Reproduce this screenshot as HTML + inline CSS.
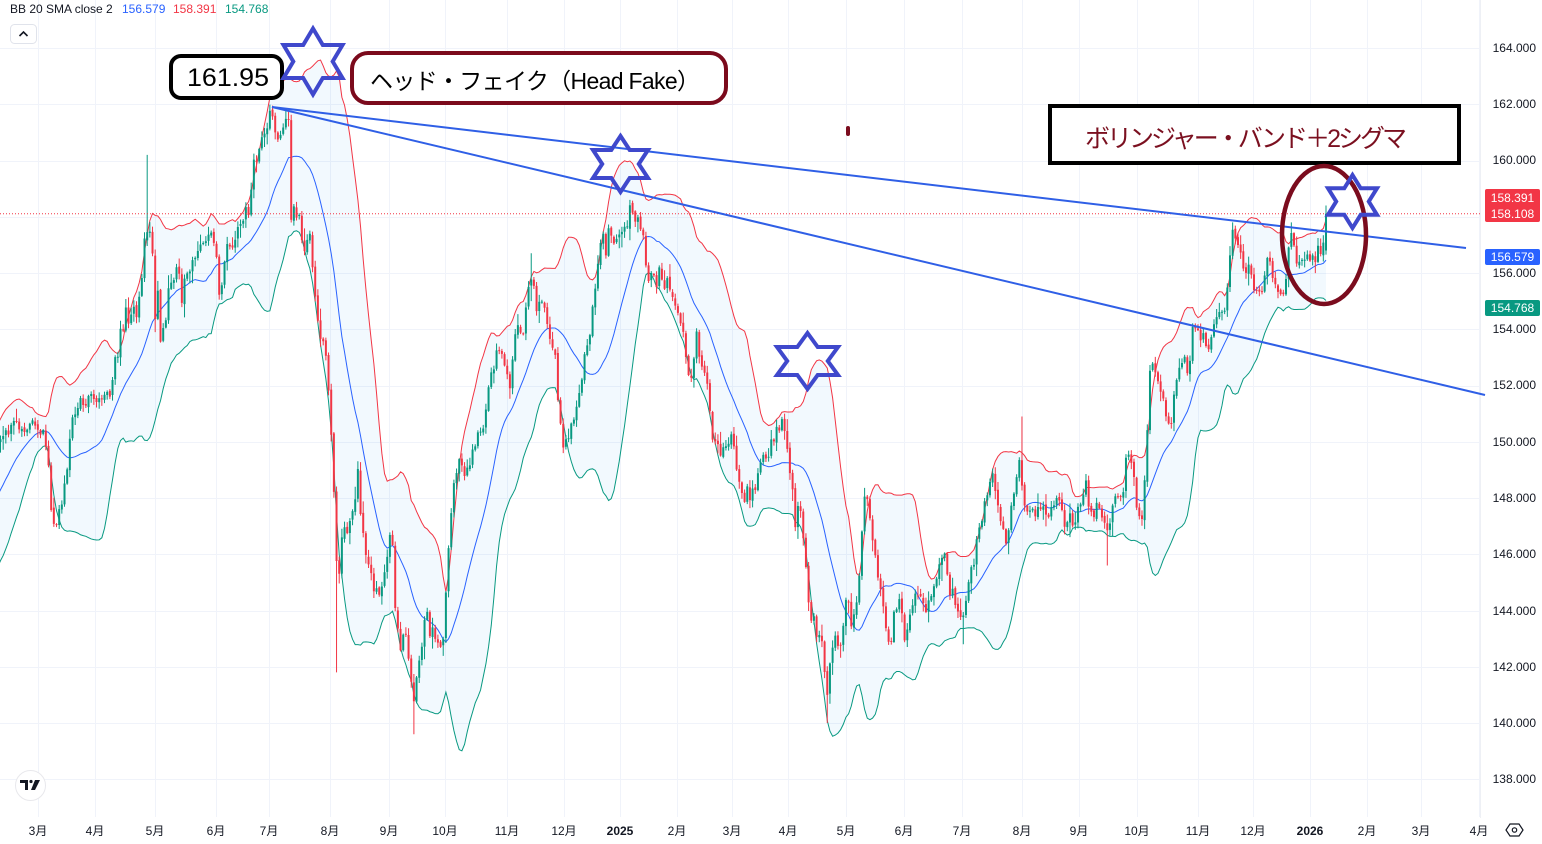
<!DOCTYPE html>
<html><head><meta charset="utf-8">
<style>
html,body{margin:0;padding:0;background:#fff;}
svg{display:block;}
text{font-family:"Liberation Sans","Noto Sans CJK JP",sans-serif;}
</style></head>
<body>
<svg id="s" width="1542" height="844" viewBox="0 0 1542 844" xmlns="http://www.w3.org/2000/svg">
<rect x="0" y="0" width="1542" height="844" fill="#ffffff"/>
<defs><clipPath id="plot"><rect x="0" y="0" width="1480" height="818"/></clipPath></defs>
<g id="grid" stroke="#f0f3fa" stroke-width="1"></g>
<line x1="1480.5" y1="0" x2="1480.5" y2="818" stroke="#eef0f5" stroke-width="1"/>
<g clip-path="url(#plot)"><g id="dyn"></g></g>
<line x1="0" y1="213.7" x2="1480" y2="213.7" stroke="#f23645" stroke-width="1" stroke-dasharray="1,2"/>
<!-- trend lines -->
<line x1="272" y1="107" x2="1466" y2="248" stroke="#2f5fe6" stroke-width="2"/>
<line x1="272" y1="107" x2="1485" y2="395" stroke="#2f5fe6" stroke-width="2"/>
<!-- legend -->
<text x="10" y="13" font-size="12" fill="#131722">BB 20 SMA close 2</text>
<text x="122" y="13" font-size="12" fill="#2962ff">156.579</text>
<text x="173" y="13" font-size="12" fill="#f23645">158.391</text>
<text x="225" y="13" font-size="12" fill="#089981">154.768</text>
<rect x="10.5" y="24.5" width="26" height="19" rx="4" fill="#fff" stroke="#e0e3eb"/>
<polyline points="19.5,36 23.5,32 27.5,36" fill="none" stroke="#131722" stroke-width="1.6"/>
<!-- annotations -->
<rect x="171" y="56" width="111" height="42" rx="10" fill="#fff" stroke="#000" stroke-width="4"/>
<text x="228" y="86" font-size="25" fill="#000" text-anchor="middle" textLength="82" lengthAdjust="spacingAndGlyphs">161.95</text>
<rect x="352" y="53" width="374" height="50" rx="16" fill="#fff" stroke="#7b0a1c" stroke-width="4"/>
<text x="370" y="89" font-size="23" fill="#000" textLength="330">ヘッド・フェイク（Head Fake）</text>
<rect x="1050" y="106" width="409" height="57" fill="#fff" stroke="#000" stroke-width="4"/>
<text x="1085" y="147" font-size="25" fill="#7b1020" textLength="322">ボリンジャー・バンド＋2シグマ</text>
<ellipse cx="1324" cy="235" rx="42" ry="69" fill="none" stroke="#7b0c1e" stroke-width="4.5"/>
<rect x="846" y="126" width="4" height="10" rx="2" fill="#7b0c1e"/>
<g id="stars" fill="none" stroke="#3f48cc" stroke-width="4"></g>
<!-- price axis -->
<g font-size="12" fill="#131722" text-anchor="end">
<text x="1536" y="52">164.000</text>
<text x="1536" y="108">162.000</text>
<text x="1536" y="164">160.000</text>
<text x="1536" y="277">156.000</text>
<text x="1536" y="333">154.000</text>
<text x="1536" y="389">152.000</text>
<text x="1536" y="446">150.000</text>
<text x="1536" y="502">148.000</text>
<text x="1536" y="558">146.000</text>
<text x="1536" y="615">144.000</text>
<text x="1536" y="671">142.000</text>
<text x="1536" y="727">140.000</text>
<text x="1536" y="783">138.000</text>
</g>
<rect x="1485" y="189" width="55" height="33" rx="2" fill="#f23645"/>
<text x="1512.5" y="202" font-size="12" fill="#fff" text-anchor="middle">158.391</text>
<text x="1512.5" y="218" font-size="12" fill="#fff" text-anchor="middle">158.108</text>
<rect x="1485" y="249" width="55" height="16" rx="2" fill="#2962ff"/>
<text x="1512.5" y="261" font-size="12" fill="#fff" text-anchor="middle">156.579</text>
<rect x="1485" y="300" width="55" height="16" rx="2" fill="#089981"/>
<text x="1512.5" y="312" font-size="12" fill="#fff" text-anchor="middle">154.768</text>
<!-- time axis -->
<g id="months" font-size="12" fill="#131722" text-anchor="middle"></g>
<!-- logo -->
<circle cx="30.5" cy="785.5" r="15" fill="#fff" stroke="#e8e8ec" stroke-width="1"/>
<path d="M20,780 h8 v10 h-3 v-7 h-5 z" fill="#131722"/>
<circle cx="31" cy="781.5" r="1.6" fill="#131722"/>
<path d="M35,780 h5 l-5,10 h-4 z" fill="#131722"/>
<!-- settings icon -->
<polygon points="1510,824 1519,824 1523,830 1519,836 1510,836 1506,830" fill="none" stroke="#131722" stroke-width="1.2"/>
<circle cx="1514.5" cy="830" r="2.2" fill="none" stroke="#131722" stroke-width="1.2"/>
</svg>
<script>
(function(){
var NS="http://www.w3.org/2000/svg";
function el(tag,attrs,parent,txt){var e=document.createElementNS(NS,tag);for(var k in attrs)e.setAttribute(k,attrs[k]);if(txt!==undefined)e.textContent=txt;parent.appendChild(e);return e;}
var Y=function(p){return 48+(164-p)*28.125;};
var grid=document.getElementById('grid');
var mx=[38,95,155,216,269,330,389,445,507,564,620,677,732,788,846,904,962,1022,1079,1137,1198,1253,1310,1367,1421,1479];
var ml=["3月","4月","5月","6月","7月","8月","9月","10月","11月","12月","2025","2月","3月","4月","5月","6月","7月","8月","9月","10月","11月","12月","2026","2月","3月","4月"];
mx.forEach(function(x){el('line',{x1:x+0.5,y1:0,x2:x+0.5,y2:817},grid);});
for(var p=164;p>=138;p-=2){var y=Math.round(Y(p))+0.5;el('line',{x1:0,y1:y,x2:1480,y2:y},grid);}
var mg=document.getElementById('months');
ml.forEach(function(t,i){var a={x:mx[i],y:835};if(t.length==4)a['font-weight']='bold';el('text',a,mg,t);});
var sg=document.getElementById('stars');
function star(cx,cy,W,H){var Rx=W/2/0.866,Ry=H/2,pts=[];for(var i=0;i<12;i++){var a=(-90+i*30)*Math.PI/180;var f=(i%2==0)?1:1/Math.sqrt(3);pts.push((cx+Rx*f*Math.cos(a)).toFixed(1)+','+(cy+Ry*f*Math.sin(a)).toFixed(1));}el('polygon',{points:pts.join(' ')},sg);}
star(313,61.5,59,66);star(620.5,164,55,56);star(807.5,361,61,56);star(1352.5,201.5,49,53);
var A=[[-90,145.6],[-75,145.4],[-60,145.9],[-50,146.3],[-40,146.9],[-30,147.8],[-20,148.7],[-10,149.6],
[3,150.2],[15,150.8],[22,150.4],[30,150.6],[38,150.5],[44,150.3],[47,150.0],[50,148.3],[53,147.0],[56,146.9],[60,147.6],[64,148.2],[67,149.0],[72,151.1],[76,150.8],[80,151.5],[86,151.3],[92,151.6],[100,151.5],[105,151.8],[110,151.7],[115,153.0],[120,153.6],[125,154.5],[130,154.3],[133,154.7],[137,154.5],[140,155.1],[144,157.0],[147,157.5],[150,157.6],[153,156.6],[155,154.4],[158,155.5],[160,153.3],[163,154.0],[165,154.4],[170,155.5],[175,155.9],[180,156.3],[182,154.9],[186,156.0],[192,156.4],[196,156.8],[200,157.0],[205,157.2],[210,157.6],[215,156.9],[218,155.8],[220,155.2],[224,156.3],[227,156.9],[233,157.0],[237,157.4],[240,157.7],[245,158.0],[250,158.4],[253,159.5],[258,160.2],[262,160.7],[266,161.1],[270,161.6],[274,161.4],[278,160.8],[282,161.2],[286,161.5],[289,161.6],[291,158.0],[294,158.2],[300,158.1],[303,156.6],[307,157.0],[310,157.3],[313,155.6],[318,153.8],[322,154.0],[325,153.5],[328,152.0],[330,151.1],[333,149.4],[335,146.9],[338,144.4],[341,146.0],[343,147.1],[347,146.8],[350,147.2],[355,147.8],[358,149.0],[360,147.6],[364,146.5],[367,145.5],[370,145.8],[373,144.6],[377,144.8],[380,144.4],[384,145.5],[387,146.1],[392,146.9],[395,144.2],[400,142.8],[404,143.2],[407,142.4],[410,141.8],[413,140.7],[416,141.5],[420,142.4],[424,143.5],[427,143.9],[430,143.2],[433,143.5],[437,142.8],[440,142.4],[443,142.85],[448,146.1],
[453,148.4],[460,149.2],[467,148.8],[473,149.6],[480,150.1],[485,150.75],[490,152.3],[497,153.3],[503,152.9],[510,151.9],[517,154.3],[523,153.6],[530,155.9],[537,154.8],[543,155.0],[548,154.0],[555,153.0],[558,151.4],[563,149.8],[570,150.35],[577,151.1],[583,152.5],[590,154.0],[597,156.0],[602,157.3],[606,156.8],[610,157.7],[613,156.9],[617,157.2],[623,157.5],[627,157.9],[630,158.26],[634,157.6],[637,158.0],[640,157.6],[643,157.3],[647,155.6],[653,156.0],[657,155.4],[660,156.3],[664,155.3],[667,155.6],[673,155.0],[680,154.4],[685,153.4],[690,152.1],[694,153.0],[697,154.0],[700,152.7],[704,152.5],[707,151.8],[713,150.1],[717,150.4],[720,149.4],[724,149.9],[727,149.8],[732,150.4],[737,149.0],[743,147.7],[747,148.3],[750,148.0],[754,148.5],[757,148.8],[763,149.3],[767,149.0],[770,149.8],[774,150.3],[777,150.6],[780,150.2],[782,151.0],[787,149.8],[792,148.8],[795,146.8],[797,147.8],[800,147.5],[805,146.1],[810,143.5],[814,143.6],[817,142.85],[820,143.1],[823,142.2],[827,141.1],[830,142.2],[835,143.1],[840,142.5],[843,143.5],[847,144.8],[852,143.5],[857,144.2],
[860,145.55],[865,148.3],[870,147.3],[875,145.8],[880,144.6],[885,143.55],[890,142.7],[895,144.0],[900,144.5],[905,143.0],[910,143.8],[915,144.6],[920,144.7],[925,143.8],[930,144.4],[935,145.1],[940,145.55],[945,146.15],[948,144.9],[953,144.6],[958,144.0],[962,143.4],[967,144.6],[972,145.8],[977,146.5],[982,147.35],[987,148.2],[992,148.8],[997,147.9],[1002,147.0],[1007,146.5],[1012,147.9],[1017,148.8],[1020,149.8],[1023,147.9],[1027,147.35],[1033,147.7],[1040,147.9],[1047,147.35],[1053,147.7],[1060,148.2],[1065,147.0],[1070,147.35],[1075,147.0],[1080,147.9],[1087,148.4],[1092,147.2],[1097,147.7],[1103,147.5],[1108,146.75],[1113,147.7],[1118,147.9],[1123,148.3],[1127,149.6],[1132,149.2],[1135,148.3],[1138,147.2],[1143,147.5],[1147,150.07],[1150,152.7],[1153,153.0],[1158,152.1],[1163,151.7],[1167,150.5],[1172,150.8],[1175,151.85],[1180,152.7],[1185,152.9],[1188,152.2],[1193,154.1],[1198,154.1],[1203,153.6],[1208,153.15],[1213,154.1],[1218,154.7],[1223,154.7],[1227,155.3],[1230,156.5],[1233,157.5],[1238,157.06],[1243,156.2],[1248,156.2],[1253,155.6],[1258,155.16],[1263,155.4],[1268,156.8],[1273,155.9],[1278,155.3],[1282,155.04],[1285,155.6],[1290,157.5],[1293,157.06],[1297,156.2],[1302,156.47],[1307,156.6],[1312,156.47],[1317,156.7],[1322,156.8],[1326,158.108]];
function interp(x){if(x<=A[0][0])return A[0][1];for(var i=1;i<A.length;i++){if(x<=A[i][0]){var a=A[i-1],b=A[i];var t=(x-a[0])/(b[0]-a[0]);return a[1]+(b[1]-a[1])*t;}}return A[A.length-1][1];}
function mb(a){return function(){a|=0;a=a+0x6D2B79F5|0;var t=Math.imul(a^a>>>15,1|a);t=t+Math.imul(t^t>>>7,61|t)^t;return((t^t>>>14)>>>0)/4294967296;};}
var r=mb(12345);
function rn(){var u=r()||1e-9,v=r();return Math.sqrt(-2*Math.log(u))*Math.cos(2*Math.PI*v);}
var N=530,dx=2.667,xl=1326;
var X=[],O=[],H=[],L=[],C=[];var prev=null;
for(var k=0;k<N;k++){var x=xl-(N-1-k)*dx;var c=interp(x)+(k==N-1?0:rn()*0.15);var o=(prev===null)?c:prev+rn()*0.03;if(k==N-1)o=156.8;
var h=Math.max(o,c)+Math.abs(rn())*0.17+0.03;var l=Math.min(o,c)-Math.abs(rn())*0.17-0.03;
X.push(x);O.push(o);C.push(c);H.push(h);L.push(l);prev=c;}
var ov=[[148,'h',160.2],[272,'h',161.95],[286,'h',161.8],[336,'l',141.8],[414,'l',139.6],[530,'h',156.7],[630,'h',158.6],[828,'l',140.0],[1021,'h',150.9],[1233,'h',157.8],[1290,'h',157.8],[1326,'h',158.4],[1008,'l',146.0],[1108,'l',145.6],[964,'l',142.8]];
ov.forEach(function(q){var bi=0,bd=1e9;for(var k=0;k<N;k++){var d=Math.abs(X[k]-q[0]);if(d<bd){bd=d;bi=k;}}if(q[1]=='h')H[bi]=Math.max(H[bi],q[2]);else L[bi]=Math.min(L[bi],q[2]);});
var U=[],M=[],D=[];
for(var k=19;k<N;k++){var s=0;for(var j=k-19;j<=k;j++)s+=C[j];var m=s/20;var v=0;for(var j=k-19;j<=k;j++)v+=(C[j]-m)*(C[j]-m);var sd=Math.sqrt(v/20);
U.push(X[k].toFixed(2)+','+Y(m+2*sd).toFixed(2));M.push(X[k].toFixed(2)+','+Y(m).toFixed(2));D.push(X[k].toFixed(2)+','+Y(m-2*sd).toFixed(2));}
var dyn=document.getElementById('dyn');
var Dr=D.slice().reverse();
el('path',{d:'M'+U.join('L')+'L'+Dr.join('L')+'Z',fill:'rgba(33,150,243,0.06)',stroke:'none'},dyn);
el('polyline',{points:U.join(' '),fill:'none',stroke:'#f23645','stroke-width':1},dyn);
el('polyline',{points:M.join(' '),fill:'none',stroke:'#2962ff','stroke-width':1},dyn);
el('polyline',{points:D.join(' '),fill:'none',stroke:'#089981','stroke-width':1},dyn);
var wu='',wd='',bu='',bd2='';
for(var k=0;k<N;k++){var x=X[k];var up=C[k]>=O[k];var yt=Y(Math.max(O[k],C[k])),yb=Y(Math.min(O[k],C[k]));if(yb-yt<1){yb=yt+1;}
var w='M'+x.toFixed(2)+','+Y(H[k]).toFixed(2)+'V'+Y(L[k]).toFixed(2);
var b='M'+(x-1).toFixed(2)+','+yt.toFixed(2)+'h2V'+yb.toFixed(2)+'h-2Z';
if(up){wu+=w;bu+=b;}else{wd+=w;bd2+=b;}}
el('path',{d:wu,stroke:'#089981','stroke-width':1,fill:'none'},dyn);
el('path',{d:wd,stroke:'#f23645','stroke-width':1,fill:'none'},dyn);
el('path',{d:bu,fill:'#089981'},dyn);
el('path',{d:bd2,fill:'#f23645'},dyn);
})();
</script>
</body></html>
